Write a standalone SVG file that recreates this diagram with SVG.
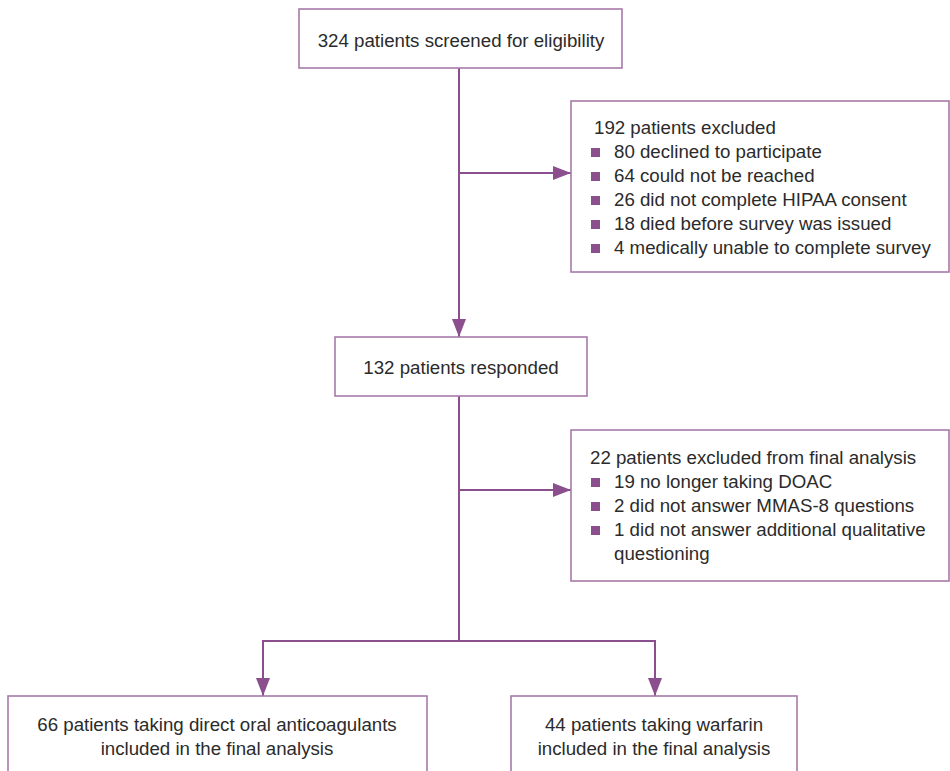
<svg xmlns="http://www.w3.org/2000/svg" width="950" height="771" viewBox="0 0 950 771">
<style>
.box{fill:#fff;stroke:#a77aa9;stroke-width:1.6}
.t{font-family:"Liberation Sans",Arial,sans-serif;font-size:18.7px;fill:#2b2b2b}
.c{text-anchor:middle}
.ln{fill:none;stroke:#8c4f8e;stroke-width:2}
.b{fill:#8c4f8e}
</style>
<defs>
<marker id="ah" markerWidth="18" markerHeight="14" refX="18" refY="7" orient="auto" markerUnits="userSpaceOnUse" viewBox="0 0 18 14">
<path d="M0,0 L18,7 L0,14 Z" fill="#8c4f8e"/>
</marker>
</defs>
<rect width="950" height="771" fill="#fff"/>
<g id="connectors">
<path class="ln" d="M459,68 V337" marker-end="url(#ah)"/>
<path class="ln" d="M459,173 H571" marker-end="url(#ah)"/>
<path class="ln" d="M459,396 V641"/>
<path class="ln" d="M459,490 H571" marker-end="url(#ah)"/>
<path class="ln" d="M263,641 H655"/>
<path class="ln" d="M263,640 V696" marker-end="url(#ah)"/>
<path class="ln" d="M655,640 V696" marker-end="url(#ah)"/>
</g>
<g id="screened">
<rect class="box" x="299" y="9" width="323" height="59"/>
<text class="t c" x="461" y="47">324 patients screened for eligibility</text>
</g>
<g id="excluded1">
<rect class="box" x="571" y="101" width="378" height="171"/>
<text class="t" x="594" y="134">192 patients excluded</text>
<rect class="b" x="591" y="148" width="9" height="9"/>
<text class="t" x="614" y="158">80 declined to participate</text>
<rect class="b" x="591" y="172" width="9" height="9"/>
<text class="t" x="614" y="182">64 could not be reached</text>
<rect class="b" x="591" y="196" width="9" height="9"/>
<text class="t" x="614" y="206">26 did not complete HIPAA consent</text>
<rect class="b" x="591" y="220" width="9" height="9"/>
<text class="t" x="614" y="230">18 died before survey was issued</text>
<rect class="b" x="591" y="244" width="9" height="9"/>
<text class="t" x="614" y="254">4 medically unable to complete survey</text>
</g>
<g id="responded">
<rect class="box" x="335" y="337" width="252" height="59"/>
<text class="t c" x="461" y="374">132 patients responded</text>
</g>
<g id="excluded2">
<rect class="box" x="571" y="430" width="378" height="151"/>
<text class="t" x="590" y="464">22 patients excluded from final analysis</text>
<rect class="b" x="591" y="478" width="9" height="9"/>
<text class="t" x="614" y="488">19 no longer taking DOAC</text>
<rect class="b" x="591" y="502" width="9" height="9"/>
<text class="t" x="614" y="512">2 did not answer MMAS-8 questions</text>
<rect class="b" x="591" y="526" width="9" height="9"/>
<text class="t" x="614" y="536">1 did not answer additional qualitative</text>
<text class="t" x="614" y="560">questioning</text>
</g>
<g id="doac">
<rect class="box" x="8" y="696" width="419" height="90"/>
<text class="t c" x="217" y="731">66 patients taking direct oral anticoagulants</text>
<text class="t c" x="217" y="755">included in the final analysis</text>
</g>
<g id="warfarin">
<rect class="box" x="511" y="696" width="286" height="90"/>
<text class="t c" x="654" y="731">44 patients taking warfarin</text>
<text class="t c" x="654" y="755">included in the final analysis</text>
</g>
</svg>
